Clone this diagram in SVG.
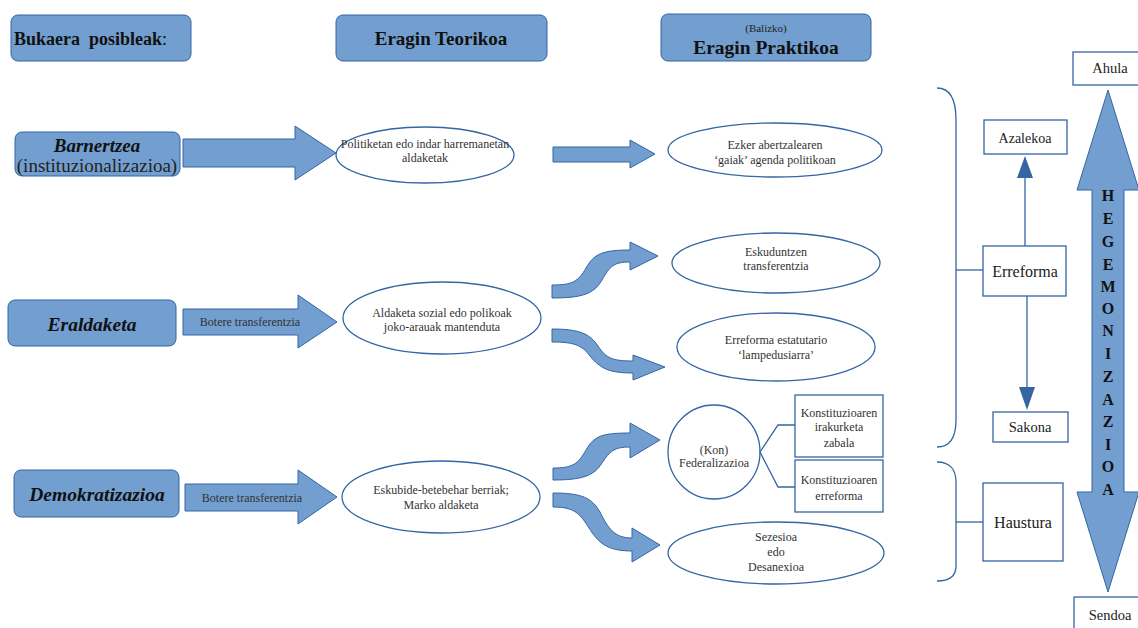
<svg xmlns="http://www.w3.org/2000/svg" width="1138" height="628" viewBox="0 0 1138 628">
<style>
.box{fill:#729fcf;stroke:#3465a4;stroke-width:1}
.arr{fill:#729fcf;stroke:#3465a4;stroke-width:1}
.ell{fill:#fff;stroke:#3465a4;stroke-width:1.3}
.wbox{fill:#fff;stroke:#3465a4;stroke-width:1.3}
.ln{fill:none;stroke:#3465a4;stroke-width:1.3}
text{font-family:'Liberation Serif','Times New Roman','DejaVu Serif',serif}
.hd{font-weight:bold;fill:#111;text-anchor:middle}
.bi{font-weight:bold;font-style:italic;fill:#111;text-anchor:middle}
.t{fill:#333;text-anchor:middle;font-size:12px}
.r{fill:#222;text-anchor:middle}
</style>
<g id="header-bukaera">
<rect class="box" x="11" y="15" width="180" height="46" rx="7"/>
<text class="hd" x="14" y="45" font-size="18" style="text-anchor:start">Bukaera&#160; posibleak<tspan font-weight="normal">:</tspan></text>
</g>
<g id="header-teorikoa">
<rect class="box" x="336" y="15" width="211" height="46" rx="7"/>
<text class="hd" x="441" y="45" font-size="19">Eragin Teorikoa</text>
</g>
<g id="header-praktikoa">
<rect class="box" x="661" y="14" width="210" height="47" rx="7"/>
<text class="r" x="766" y="31.5" font-size="11">(Balizko)</text>
<text class="hd" x="766" y="54" font-size="19.5">Eragin Praktikoa</text>
</g>
<g id="node-barnertzea">
<rect class="box" x="15" y="132" width="165" height="44" rx="7"/>
<text class="bi" x="97" y="152" font-size="19">Barnertzea</text>
<text class="r" x="97" y="172" font-size="19" fill="#111">(instituzionalizazioa)</text>
</g>
<g id="node-eraldaketa">
<rect class="box" x="8" y="300" width="168" height="46" rx="7"/>
<text class="bi" x="92" y="331" font-size="19.5">Eraldaketa</text>
</g>
<g id="node-demokratizazioa">
<rect class="box" x="14" y="470" width="165" height="47" rx="7"/>
<text class="bi" x="97" y="501" font-size="19.5">Demokratizazioa</text>
</g>
<g id="node-politiketan">
<ellipse class="ell" cx="425" cy="155" rx="89" ry="28"/>
<text class="t" x="425" y="148" font-size="11.5">Politiketan edo indar harremanetan</text>
<text class="t" x="425" y="162" font-size="11.5">aldaketak</text>
</g>
<g id="node-aldaketa">
<ellipse class="ell" cx="442" cy="318" rx="99" ry="36"/>
<text class="t" x="442" y="317">Aldaketa sozial edo polikoak</text>
<text class="t" x="442" y="331">joko-arauak mantenduta</text>
</g>
<g id="node-eskubide">
<ellipse class="ell" cx="441" cy="497" rx="99" ry="36"/>
<text class="t" x="441" y="494">Eskubide-betebehar berriak;</text>
<text class="t" x="441" y="509">Marko aldaketa</text>
</g>
<g id="node-ezker">
<ellipse class="ell" cx="775" cy="150" rx="107" ry="27"/>
<text class="t" x="775" y="149">Ezker abertzalearen</text>
<text class="t" x="775" y="164">‘gaiak’ agenda politikoan</text>
</g>
<g id="node-eskuduntzen">
<ellipse class="ell" cx="776" cy="263" rx="104" ry="30"/>
<text class="t" x="776" y="256">Eskuduntzen</text>
<text class="t" x="776" y="270">transferentzia</text>
</g>
<g id="node-lampedusiarra">
<ellipse class="ell" cx="776" cy="347" rx="99" ry="34"/>
<text class="t" x="776" y="344">Erreforma estatutario</text>
<text class="t" x="776" y="359">‘lampedusiarra’</text>
</g>
<g id="node-federalizazioa">
<ellipse class="ell" cx="714" cy="452" rx="46" ry="47"/>
<text class="t" x="714" y="454">(Kon)</text>
<text class="t" x="714" y="467">Federalizazioa</text>
</g>
<g id="node-irakurketa">
<rect class="wbox" x="795" y="395" width="88" height="62"/>
<text class="t" x="839" y="417" font-size="12.5">Konstituzioaren</text>
<text class="t" x="839" y="431" font-size="12.5">irakurketa</text>
<text class="t" x="839" y="447" font-size="12.5">zabala</text>
</g>
<g id="node-konst-erreforma">
<rect class="wbox" x="795" y="460" width="88" height="52"/>
<text class="t" x="839" y="484" font-size="12.5">Konstituzioaren</text>
<text class="t" x="839" y="500" font-size="12.5">erreforma</text>
</g>
<g id="node-sezesioa">
<ellipse class="ell" cx="776" cy="553" rx="108" ry="31"/>
<text class="t" x="776" y="541">Sezesioa</text>
<text class="t" x="776" y="556">edo</text>
<text class="t" x="776" y="571">Desanexioa</text>
</g>
<g id="node-azalekoa">
<rect class="wbox" x="984" y="120" width="83" height="34"/>
<text class="r" x="1025" y="143" font-size="14">Azalekoa</text>
</g>
<g id="node-erreforma">
<rect class="wbox" x="983" y="246" width="83" height="50"/>
<text class="r" x="1025" y="277" font-size="16">Erreforma</text>
</g>
<g id="node-sakona">
<rect class="wbox" x="993" y="412" width="75" height="30"/>
<text class="r" x="1030" y="432" font-size="14.5">Sakona</text>
</g>
<g id="node-haustura">
<rect class="wbox" x="983" y="483" width="80" height="78"/>
<text class="r" x="1023" y="528" font-size="16">Haustura</text>
</g>
<g id="node-ahula">
<rect class="wbox" x="1073" y="52" width="80" height="33"/>
<text class="r" x="1110" y="73" font-size="14.5">Ahula</text>
</g>
<g id="node-sendoa">
<rect class="wbox" x="1074" y="597" width="80" height="40"/>
<text class="r" x="1110" y="620" font-size="14.5">Sendoa</text>
</g>
<g id="hegemonizazioa">
<path class="arr" d="M1108,90 L1139,190 L1124,190 L1124,492 L1139,492 L1108,592 L1077,492 L1092,492 L1092,190 L1077,190 Z"/>
<g class="hd" font-size="16" fill="#111">
<text x="1108" y="201">H</text><text x="1108" y="224">E</text><text x="1108" y="247">G</text><text x="1108" y="270">E</text><text x="1108" y="292">M</text><text x="1108" y="314">O</text><text x="1108" y="336">N</text><text x="1108" y="359">I</text><text x="1108" y="382">Z</text><text x="1108" y="405">A</text><text x="1108" y="427">Z</text><text x="1108" y="450">I</text><text x="1108" y="472">O</text><text x="1108" y="495">A</text>
</g>
</g>
<g id="connectors">
<path class="arr" d="M183,139 L295,139 L295,126 L336,153 L295,180 L295,167 L183,167 Z"/>
<path class="arr" d="M183,309 L298,309 L298,295 L337,322 L298,348 L298,335 L183,335 Z"/>
<text class="t" x="250" y="326" font-size="11.5">Botere transferentzia</text>
<path class="arr" d="M185,484 L298,484 L298,470 L337,497 L298,524 L298,511 L185,511 Z"/>
<text class="t" x="252" y="502" font-size="11.5">Botere transferentzia</text>
<path class="arr" d="M553,147 L630,147 L630,140 L655,154 L630,168 L630,162 L553,162 Z"/>
<path class="arr" d="M552,285 C572,285 578,282 586,268 C594,254 602,250 630,250 L630,242 L658,256 L630,270 L630,262 C614,262 610,266 602,280 C594,294 582,298 552,298 Z"/>
<path class="arr" d="M552,329 C580,329 590,334 598,346 C606,358 612,361 633,361 L633,355 L665,367 L633,380 L633,373 C608,373 600,368 590,356 C582,345 574,342 552,342 Z"/>
<path class="arr" d="M553,468 C573,468 578,464 586,450 C594,436 602,433 630,433 L630,423 L660,440 L630,458 L630,447 C614,447 610,451 602,463 C594,476 582,480 553,480 Z"/>
<path class="arr" d="M553,493 C582,493 592,498 600,512 C608,528 614,538 632,538 L632,528 L660,545 L632,562 L632,551 C606,551 598,542 589,528 C580,514 575,507 553,507 Z"/>
<path class="ln" d="M795,425 L778,425 L760,452 L778,487 L795,487"/>
<path class="ln" d="M937,88 C950,88 956,100 956,120 L956,420 C956,437 950,447 937,447"/>
<path class="ln" d="M956,270 L983,270"/>
<path class="ln" d="M937,462 C950,462 956,470 956,482 L956,566 C956,576 950,581 937,581"/>
<path class="ln" d="M956,522 L983,522"/>
<path class="ln" d="M1025,246 L1025,178"/>
<polygon points="1017,178 1033,178 1025,156" fill="#3465a4"/>
<path class="ln" d="M1027,296 L1027,387"/>
<polygon points="1019,387 1035,387 1027,410" fill="#3465a4"/>
</g>
</svg>
